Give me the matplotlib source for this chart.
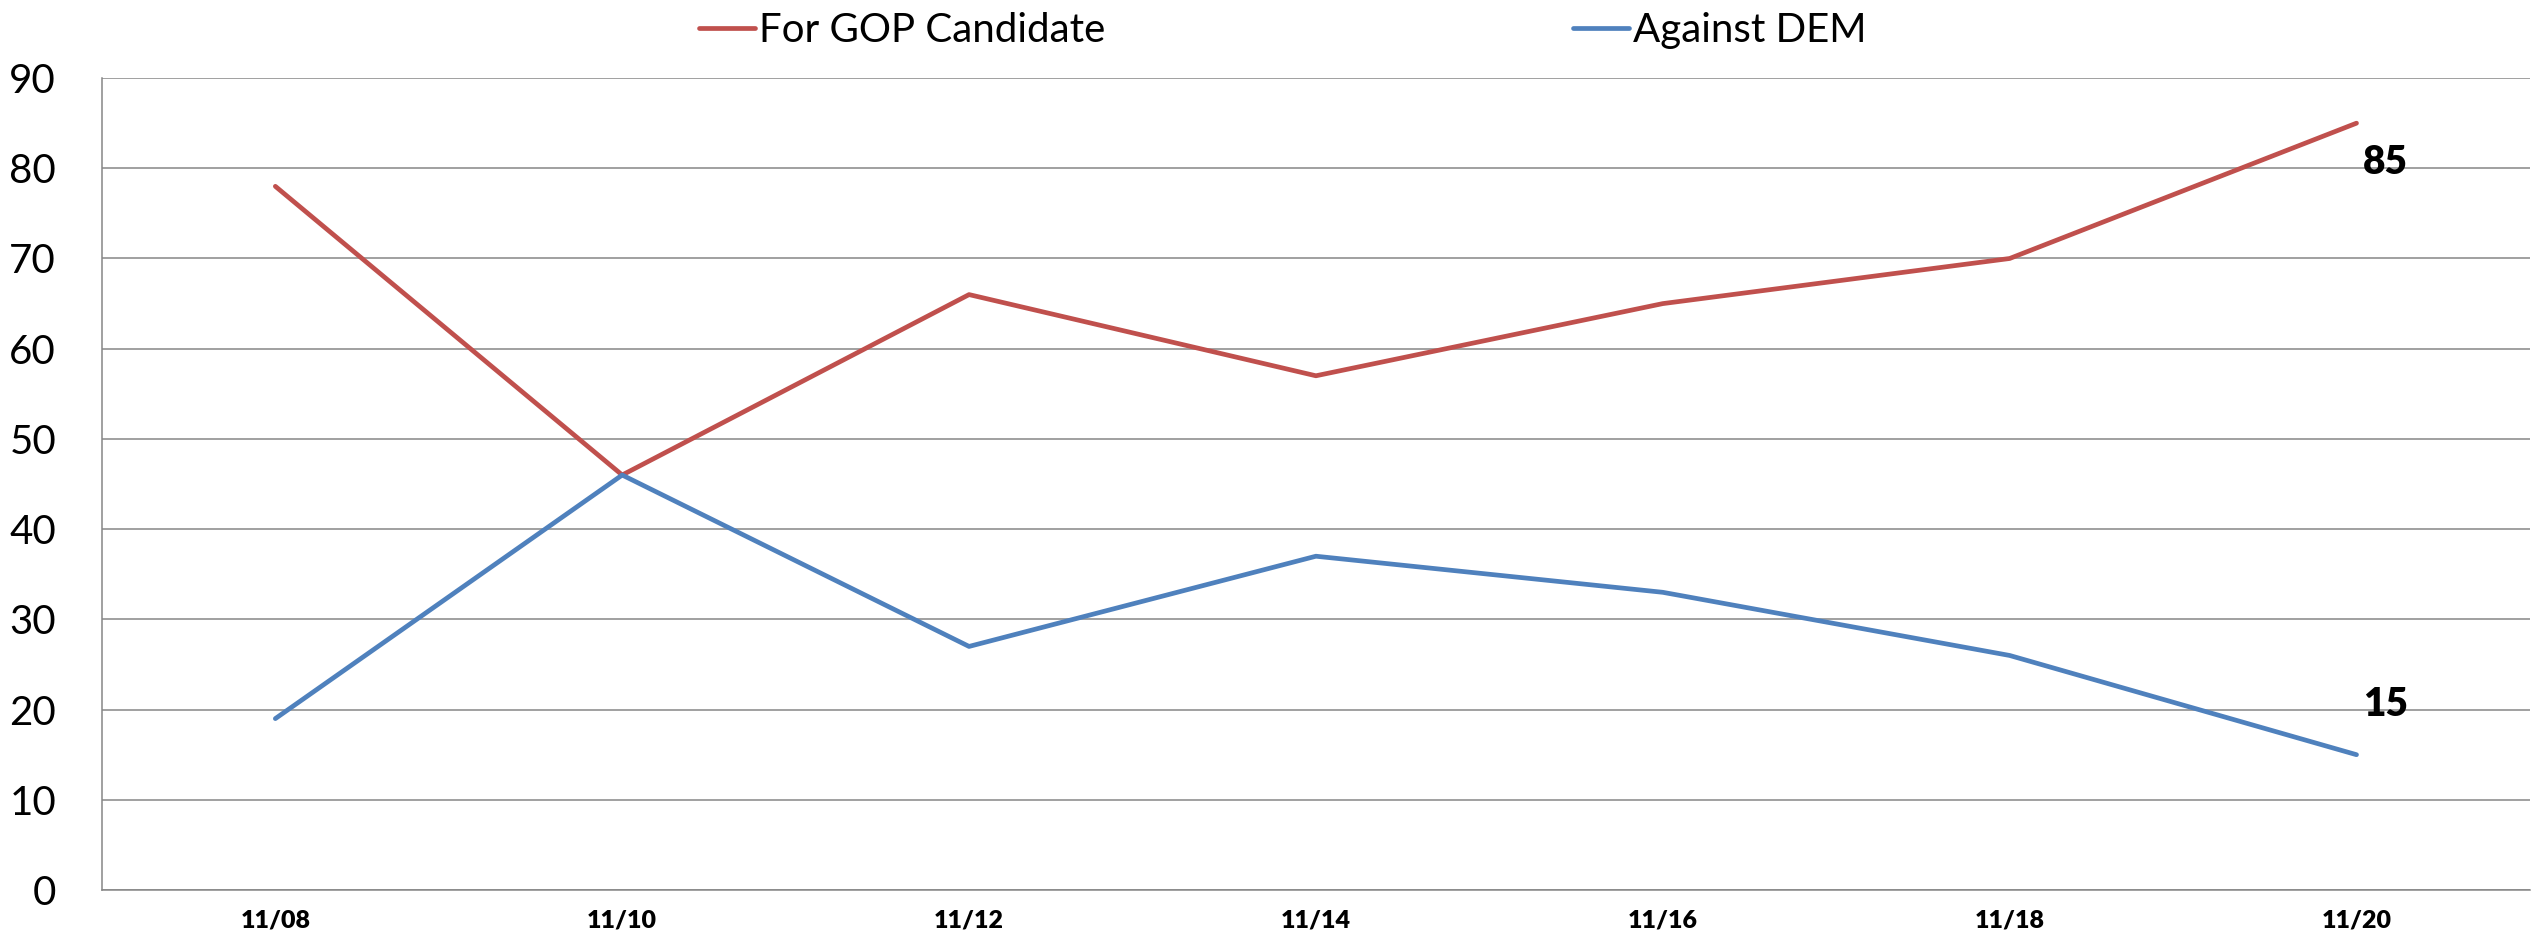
"""Recreate the GOP / DEM daily line chart."""

import matplotlib

matplotlib.use("Agg")

import matplotlib.pyplot as plt  # noqa: E402

plt.rcParams["font.family"] = ["Lato", "DejaVu Sans"]

# Data
dates = ["11/08", "11/10", "11/12", "11/14", "11/16", "11/18", "11/20"]
gop_values = [78, 46, 66, 57, 65, 70, 85]
dem_values = [19, 46, 27, 37, 33, 26, 15]
y_ticks = [0, 10, 20, 30, 40, 50, 60, 70, 80, 90]

_RED = "#C0504D"
_BLUE = "#4F81BD"
_GRID = "#868686"

fig = plt.figure(figsize=(25.35, 9.52), dpi=100, facecolor="white")
ax = fig.add_axes([0.0402, 0.0651, 0.9578, 0.8529])

x = list(range(len(dates)))
ax.plot(x, gop_values, color=_RED, lw=3.4, solid_capstyle="round",
        label="For GOP Candidate", zorder=3)
ax.plot(x, dem_values, color=_BLUE, lw=3.4, solid_capstyle="round",
        label="Against DEM", zorder=3)

ax.set_xlim(-0.5, len(dates) - 0.5)
ax.set_ylim(0, 90)
ax.set_yticks(y_ticks)
ax.set_xticks(x)
ax.set_xticklabels(dates, fontsize=18, fontweight="heavy")
ax.tick_params(axis="y", labelsize=29, length=0, pad=33)
ax.tick_params(axis="x", length=0, pad=14)

ax.yaxis.grid(True, color=_GRID, lw=1.1)
ax.set_axisbelow(True)
for side in ("top", "right"):
    ax.spines[side].set_visible(False)
for side in ("left", "bottom"):
    ax.spines[side].set_color(_GRID)
    ax.spines[side].set_linewidth(1.1)

# Last-point labels
ax.annotate(str(gop_values[-1]), (x[-1], gop_values[-1]),
            xytext=(21, -28.5), textcoords="offset points",
            ha="center", va="center", fontsize=28, fontweight="heavy")
ax.annotate(str(dem_values[-1]), (x[-1], dem_values[-1]),
            xytext=(21, 36.5), textcoords="offset points",
            ha="center", va="center", fontsize=28, fontweight="heavy")

fig.legend(loc="center", bbox_to_anchor=(0.506, 0.968), ncol=2,
           frameon=False, fontsize=29, handlelength=1.39,
           handletextpad=0.1, columnspacing=11.6, borderpad=0)

fig.savefig("out.png", dpi=100, facecolor="white")
plt.close(fig)
